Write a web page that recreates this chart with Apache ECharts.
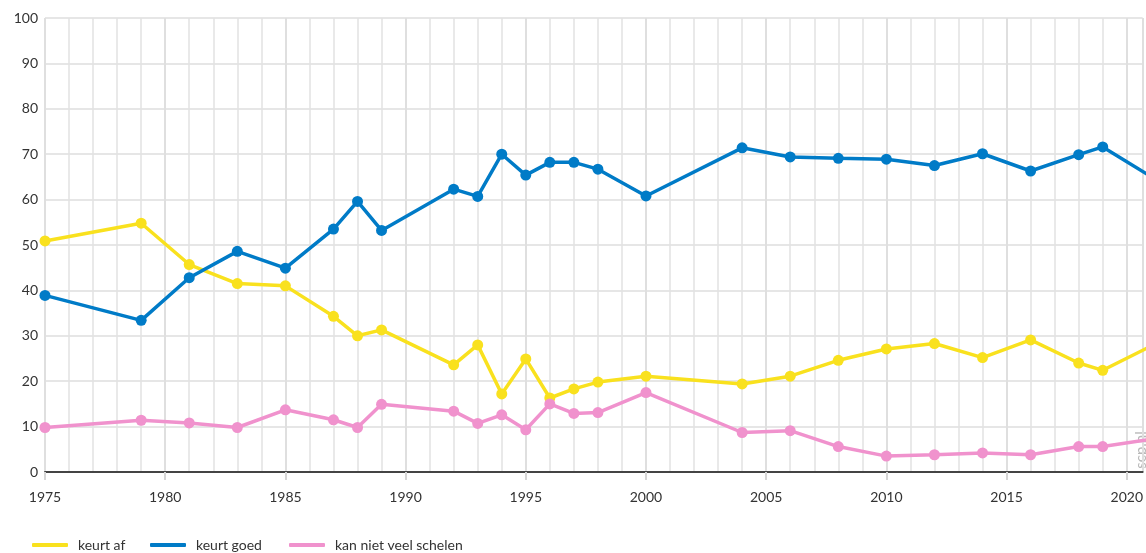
<!DOCTYPE html>
<html>
<head>
<meta charset="utf-8">
<script src="https://cdn.jsdelivr.net/npm/echarts@6/dist/echarts.min.js"></script>
<style>
  html, body { margin: 0; padding: 0; background: #fff; }
  #chart { width: 1146px; height: 553px; }
</style>
</head>
<body>
<div id="chart"></div>
<script>
// meetjaren
const years = [1975, 1979, 1981, 1983, 1985, 1987, 1988, 1989, 1992, 1993, 1994, 1995, 1996,
               1997, 1998, 2000, 2004, 2006, 2008, 2010, 2012, 2014, 2016, 2018, 2019, 2021];

// percentages per antwoord
const keurtAf = [50.9, 54.8, 45.7, 41.5, 41.0, 34.3, 30.0, 31.3, 23.6, 28.0, 17.2, 24.9, 16.3,
                 18.3, 19.8, 21.1, 19.4, 21.1, 24.6, 27.1, 28.3, 25.2, 29.1, 24.0, 22.4, 27.7];
const keurtGoed = [38.9, 33.4, 42.8, 48.6, 44.9, 53.5, 59.6, 53.2, 62.3, 60.7, 70.0, 65.4, 68.2,
                   68.2, 66.7, 60.8, 71.4, 69.4, 69.1, 68.9, 67.5, 70.1, 66.3, 69.9, 71.6, 65.1];
const kanNiet = [9.8, 11.4, 10.8, 9.8, 13.7, 11.5, 9.8, 14.9, 13.4, 10.7, 12.6, 9.3, 15.0,
                 12.9, 13.1, 17.5, 8.7, 9.1, 5.6, 3.5, 3.8, 4.2, 3.8, 5.6, 5.6, 7.2];

const names = ['keurt af', 'keurt goed', 'kan niet veel schelen'];
const colors = ['#f9e11e', '#007bc7', '#f092cd'];

// de figuur is rechts afgesneden: as loopt tot net voorbij 2020
const xMin = 1975;
const xMax = 2020.66;

const font = 'Lato, "Noto Sans", sans-serif';

function pairs(vals) {
  return years.map((y, i) => [y, vals[i]]);
}

function makeLegend(name, left) {
  return {
    data: [name],
    left: left,
    top: 538,
    icon: 'roundRect',
    itemWidth: 36,
    itemHeight: 4,
    padding: 0,
    textStyle: { fontFamily: font, fontSize: 14, color: '#333', padding: [0, 0, 0, 5] }
  };
}

const chart = echarts.init(document.getElementById('chart'));

chart.setOption({
  animation: false,
  color: colors,
  grid: { left: 45, right: 0, top: 18, bottom: 81, containLabel: false },
  legend: [makeLegend(names[0], 32), makeLegend(names[1], 150), makeLegend(names[2], 289)],
  xAxis: [
    {
      type: 'value',
      min: xMin,
      max: xMax,
      interval: 5,
      axisLine: { show: true, lineStyle: { color: '#444', width: 2 } },
      axisTick: { show: true, length: 8, lineStyle: { color: '#d6d6d6', width: 2 } },
      axisLabel: {
        margin: 18,
        fontFamily: font,
        fontSize: 14,
        color: '#333',
        showMaxLabel: false,
        formatter: v => (v % 5 === 0 ? String(v) : '')
      },
      splitLine: { show: true, lineStyle: { color: '#d6d6d6', width: 2 } }
    },
    {
      type: 'value',
      min: xMin,
      max: xMax,
      interval: 1,
      position: 'bottom',
      axisLine: { show: false },
      axisTick: { show: false },
      axisLabel: { show: false },
      splitLine: { show: true, lineStyle: { color: '#e2e2e2', width: 1.5 } }
    }
  ],
  yAxis: {
    type: 'value',
    min: 0,
    max: 100,
    interval: 10,
    axisLine: { show: false },
    axisTick: { show: false },
    axisLabel: { margin: 7, fontFamily: font, fontSize: 14, color: '#333' },
    splitLine: { show: true, lineStyle: { color: '#dedede', width: 1.5 } }
  },
  graphic: [{
    type: 'text',
    x: 1141,
    y: 450,
    rotation: Math.PI / 2,
    style: {
      text: 'scp.nl',
      fill: '#b8b8b8',
      fontFamily: font,
      fontSize: 15,
      align: 'center',
      verticalAlign: 'middle'
    }
  }],
  series: [
    { name: names[0], data: pairs(keurtAf) },
    { name: names[1], data: pairs(keurtGoed) },
    { name: names[2], data: pairs(kanNiet) }
  ].map(s => Object.assign(s, {
    type: 'line',
    xAxisIndex: 0,
    symbol: 'circle',
    symbolSize: 11,
    lineStyle: { width: 3.5 },
    clip: true
  }))
});
</script>
</body>
</html>
